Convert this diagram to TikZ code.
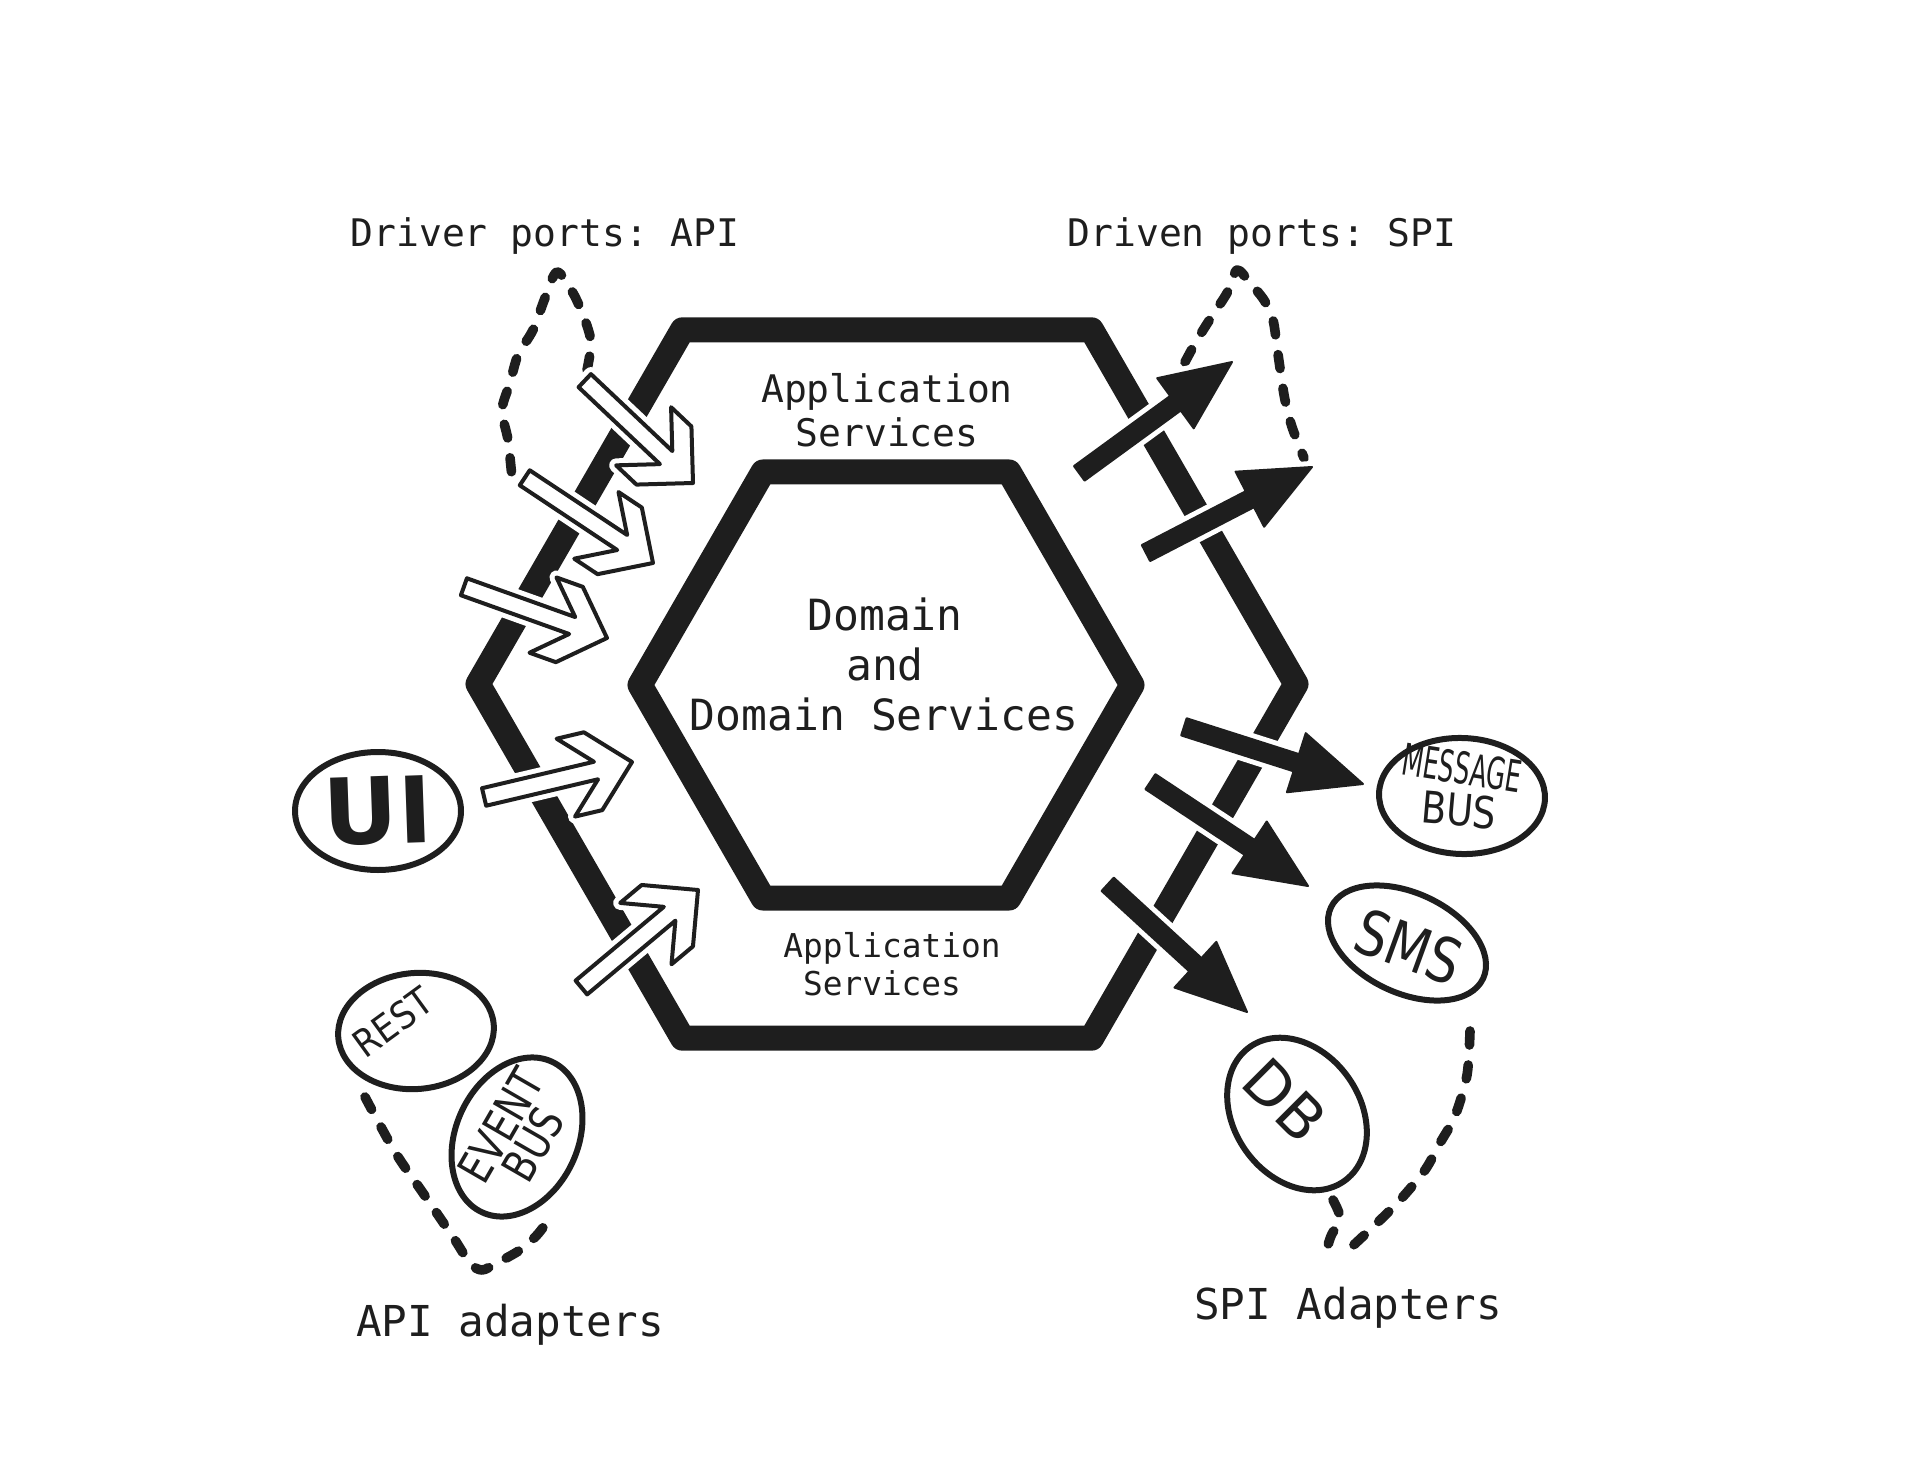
\documentclass[tikz,border=0pt]{standalone}
\usepackage{fontspec}
\setmonofont{DejaVu Sans Mono}
\newfontfamily\handfont{DejaVu Sans}
\usetikzlibrary{shapes.geometric}
\definecolor{ink}{RGB}{30,30,30}
\tikzset{
  hexline/.style={draw=ink,line width=12.5pt,line join=round},
  warrow/.style={draw=ink,fill=white,line width=2pt,line join=round,preaction={draw=white,line width=7pt}},
  barrow/.style={fill=ink,draw=ink,line width=1pt,line join=round,preaction={draw=white,line width=6pt}},
  adapter/.style={draw=ink,ellipse,line width=3pt,inner sep=0pt},
  hand/.style={text=ink,inner sep=0pt},
  dashloop/.style={draw=ink,line width=4.8pt,line cap=round,dash pattern=on 7pt off 10pt},
  label/.style={text=ink,inner sep=0pt,anchor=base}
}
\begin{document}
\begin{tikzpicture}[x=0.5pt,y=-0.5pt,line join=round]
  \useasboundingbox (0,0) rectangle (1906,1482);
  % hexagons
  \draw[hexline,shift={(887,684)}] (0:409) \foreach \a in {60,120,...,300} {-- (\a:409)} -- cycle;
  \draw[hexline,shift={(886,685)}] (0:246) \foreach \a in {60,120,...,300} {-- (\a:246)} -- cycle;
  % dashed groupings
  \draw[dashloop] plot[smooth] coordinates {(587,370) (591,343) (585,320) (573,293) (557,272) (545,298) (533,330) (518,355) (510,383) (502,410) (508,440) (512,478)};
  \draw[dashloop] plot[smooth] coordinates {(1185,362) (1197,340) (1212,316) (1227,293) (1237,270) (1250,283) (1264,300) (1273,320) (1277,347) (1281,375) (1285,400) (1292,427) (1304,458)};
  \draw[dashloop] plot[smooth] coordinates {(365,1097) (395,1152) (423,1193) (453,1237) (470,1263) (482,1270) (497,1263) (520,1250) (537,1235) (550,1218)};
  \draw[dashloop] plot[smooth] coordinates {(1470,1031) (1467,1075) (1455,1116) (1440,1143) (1425,1170) (1400,1200) (1375,1225) (1345,1253)};
  \draw[dashloop] plot[smooth] coordinates {(1333,1200) (1340,1218) (1331,1236) (1325,1255)};
  % driver ports (white arrows)
  \foreach \x/\y/\r/\l in {693/483/-43.4/149,653/563/-33.6/154,607/638/-19.7/152,632/762/13.3/152,698/890/39.9/152}
    \draw[warrow,shift={(\x,\y)},rotate=\r] (-\l,-9) -- (-37,-9) -- (-68,-40) -- (-40,-40) -- (0,0) -- (-40,40) -- (-68,40) -- (-37,9) -- (-\l,9) -- cycle;
  % driven ports (black arrows)
  \foreach \x/\y/\r/\l in {1232/362/36.1/189,1312/467/27.4/187,1363/784/-17.7/188,1308/886/-33.5/189,1247/1012/-42.5/189}
    \filldraw[barrow,shift={(\x,\y)},rotate=\r] (-\l,-9) -- (-70,-9) -- (-70,-31) -- (0,0) -- (-70,31) -- (-70,9) -- (-\l,9) -- cycle;
  % adapters
  \node[adapter,minimum width=83pt,minimum height=59pt] (ui) at (378,811) {};
  \node[adapter,minimum width=78pt,minimum height=58pt,rotate=5] (rest) at (416,1031) {};
  \node[adapter,minimum width=83pt,minimum height=61pt,rotate=65] (evbus) at (517,1137) {};
  \node[adapter,minimum width=83pt,minimum height=58pt,rotate=-2] (msgbus) at (1462,796) {};
  \node[adapter,minimum width=84pt,minimum height=50pt,rotate=-25] (sms) at (1407,943) {};
  \node[adapter,minimum width=82pt,minimum height=63pt,rotate=-55] (db) at (1297,1114) {};
  \node[hand,font=\handfont\bfseries\fontsize{46}{46}\selectfont,rotate=2] (uitxt) at (ui) {UI};
  \node[hand,font=\handfont\fontsize{19}{19}\selectfont,rotate=36,xscale=0.9] (resttxt) at (393,1022) {REST};
  \node[hand,font=\handfont\fontsize{23}{18.5}\selectfont,align=center,rotate=60,xscale=0.8] (evbustxt) at (517,1135) {EVENT\\BUS};
  \node[hand,font=\handfont\fontsize{22}{22}\selectfont,rotate=-9,xscale=0.56] (msgtxt) at (1462,768) {MESSAGE};
  \node[hand,font=\handfont\fontsize{22}{22}\selectfont,rotate=-5,xscale=0.83] (bustxt) at (1459,810) {BUS};
  \node[hand,font=\handfont\fontsize{31}{31}\selectfont,rotate=-20,xscale=0.82] (smstxt) at (1409,947) {SMS};
  \node[hand,font=\handfont\fontsize{30}{30}\selectfont,rotate=-45] (dbtxt) at (1285,1100) {DB};
  % labels
  \node[label,font=\ttfamily\fontsize{19}{22}\selectfont] (driver) at (545,247) {Driver ports: API};
  \node[label,font=\ttfamily\fontsize{19}{22}\selectfont] (driven) at (1262,247) {Driven ports: SPI};
  \node[label,font=\ttfamily\fontsize{19}{22}\selectfont] (apptop) at (887,402) {Application};
  \node[label,font=\ttfamily\fontsize{19}{22}\selectfont] (srvtop) at (887,446) {Services};
  \node[label,font=\ttfamily\fontsize{21.5}{25}\selectfont] (dom) at (885,630) {Domain};
  \node[label,font=\ttfamily\fontsize{21.5}{25}\selectfont] (domand) at (885,680) {and};
  \node[label,font=\ttfamily\fontsize{21.5}{25}\selectfont] (domsrv) at (884,730) {Domain Services};
  \node[label,font=\ttfamily\fontsize{16.4}{19}\selectfont] (appbot) at (892,957) {Application};
  \node[label,font=\ttfamily\fontsize{16.4}{19}\selectfont] (srvbot) at (882,995) {Services};
  \node[label,font=\ttfamily\fontsize{21.3}{25}\selectfont] (apiad) at (510,1336) {API adapters};
  \node[label,font=\ttfamily\fontsize{21.3}{25}\selectfont] (spiad) at (1348,1319) {SPI Adapters};
\end{tikzpicture}
\end{document}
